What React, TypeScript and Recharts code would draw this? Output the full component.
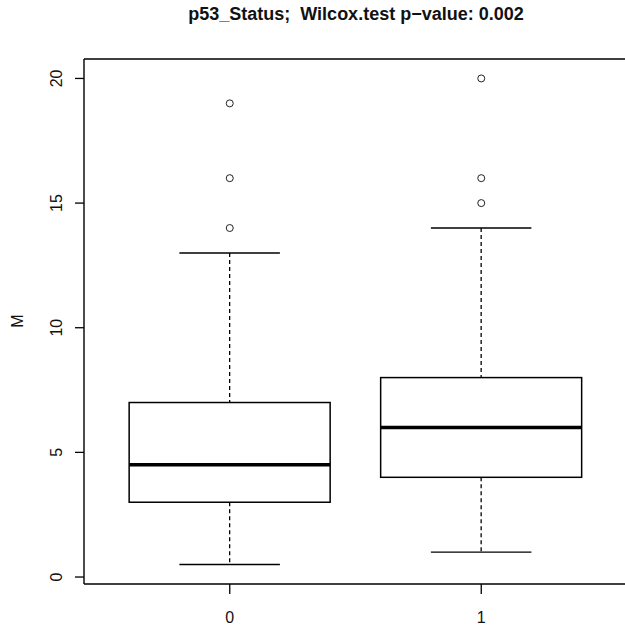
import React from 'react';
import { ComposedChart, Bar, Scatter, XAxis, YAxis } from 'recharts';

// group labels and five-number summaries
const groups = ['0', '1'];
const whiskerLow = [0.5, 1];
const q1 = [3, 4];
const median = [4.5, 6];
const q3 = [7, 8];
const whiskerHigh = [13, 14];
const outliers = [
  [14, 16, 19],
  [15, 16, 20],
];
const yTicks = [0, 5, 10, 15, 20];

const rows = groups.map((g, i) => ({
  group: g,
  range: [whiskerLow[i], whiskerHigh[i]],
  q1: q1[i],
  median: median[i],
  q3: q3[i],
  o1: outliers[i][0],
  o2: outliers[i][1],
  o3: outliers[i][2],
}));

const FONT = '"Liberation Sans", Arial, sans-serif';
const frame = { stroke: '#000', strokeWidth: 1.4 };

// draws box + whiskers inside the geometry recharts gives the range bar
const BoxShape = (props: any) => {
  const { x, y, width, height, payload } = props;
  const [lo, hi] = payload.range;
  const top = Math.min(y, y + height);
  const bottom = Math.max(y, y + height);
  const py = (v: number) => bottom - ((v - lo) / (hi - lo)) * (bottom - top);
  const cx = x + width / 2;
  const capHalf = width / 4;
  const yq1 = py(payload.q1);
  const yq3 = py(payload.q3);
  const ymed = py(payload.median);
  return (
    <g>
      <line x1={cx} x2={cx} y1={top} y2={yq3} stroke="#000" strokeWidth={1.3} strokeDasharray="4 3" />
      <line x1={cx} x2={cx} y1={yq1} y2={bottom} stroke="#000" strokeWidth={1.3} strokeDasharray="4 3" />
      <line x1={cx - capHalf} x2={cx + capHalf} y1={top} y2={top} stroke="#000" strokeWidth={1.4} />
      <line x1={cx - capHalf} x2={cx + capHalf} y1={bottom} y2={bottom} stroke="#000" strokeWidth={1.4} />
      <rect x={x} y={yq3} width={width} height={yq1 - yq3} fill="#fff" stroke="#000" strokeWidth={1.5} />
      <line x1={x} x2={x + width} y1={ymed} y2={ymed} stroke="#000" strokeWidth={3.5} />
    </g>
  );
};

const Outlier = (props: any) => (
  <circle cx={props.cx} cy={props.cy} r={3.5} fill="none" stroke="#222" strokeWidth={1} />
);

const YTick = (props: any) => {
  const { x, y, payload } = props;
  return (
    <text
      x={0}
      y={0}
      transform={`translate(${x},${y}) rotate(-90)`}
      textAnchor="middle"
      fontSize={16}
      fontFamily={FONT}
      fill="#111"
    >
      {payload.value}
    </text>
  );
};

const XTick = (props: any) => {
  const { x, y, payload } = props;
  return (
    <text x={x} y={y} dy="0.35em" textAnchor="middle" fontSize={16} fontFamily={FONT} fill="#111">
      {payload.value}
    </text>
  );
};

export default function App() {
  return (
    <div style={{ position: 'absolute', left: 0, top: 0, width: 625, height: 630, overflow: 'hidden', background: '#fff' }}>
      <div
        style={{
          position: 'absolute',
          left: 84,
          top: 4,
          width: 544,
          textAlign: 'center',
          fontFamily: FONT,
          fontWeight: 'bold',
          fontSize: 18,
          lineHeight: '20px',
          whiteSpace: 'pre',
          color: '#111',
        }}
      >
        {'p53_Status;  Wilcox.test p\u2212value: 0.002'}
      </div>
      <div
        style={{
          position: 'absolute',
          left: -2,
          top: 311,
          width: 40,
          height: 20,
          lineHeight: '20px',
          textAlign: 'center',
          transform: 'rotate(-90deg)',
          fontFamily: FONT,
          fontSize: 16,
          color: '#111',
        }}
      >
        M
      </div>
      <ComposedChart
        width={630}
        height={630}
        data={rows}
        margin={{ top: 58, right: 3, bottom: 0, left: 44 }}
        barCategoryGap="10%"
      >
        <XAxis
          dataKey="group"
          type="category"
          padding={{ left: 20, right: 20 }}
          axisLine={frame}
          tickSize={10}
          tickMargin={23}
          tickLine={{ stroke: '#000', strokeWidth: 1.3 }}
          tick={<XTick />}
          height={46}
        />
        <XAxis
          xAxisId="top"
          orientation="top"
          dataKey="group"
          type="category"
          padding={{ left: 20, right: 20 }}
          height={1}
          axisLine={frame}
          tick={false}
          tickLine={false}
        />
        <YAxis
          type="number"
          domain={[-0.28, 20.78]}
          ticks={yTicks}
          allowDataOverflow
          axisLine={frame}
          tickSize={9}
          tickMargin={13}
          tickLine={{ stroke: '#000', strokeWidth: 1.3 }}
          tick={<YTick />}
          width={40}
        />
        <Bar dataKey="range" shape={<BoxShape />} isAnimationActive={false} />
        <Scatter dataKey="o1" shape={<Outlier />} isAnimationActive={false} />
        <Scatter dataKey="o2" shape={<Outlier />} isAnimationActive={false} />
        <Scatter xAxisId="top" dataKey="o3" shape={<Outlier />} isAnimationActive={false} />
      </ComposedChart>
    </div>
  );
}
